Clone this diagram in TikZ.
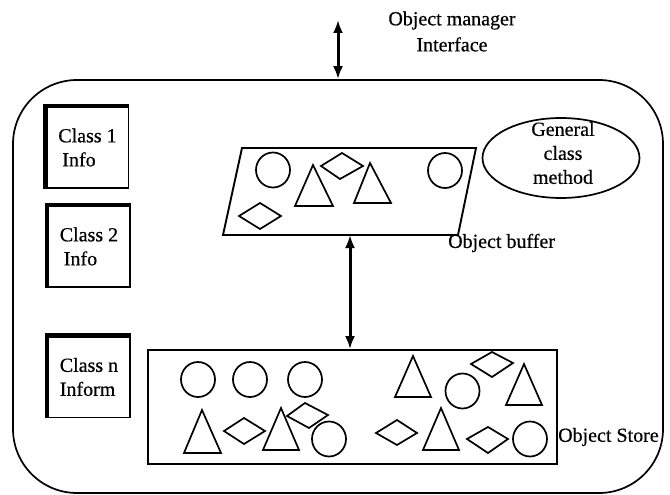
\documentclass[tikz,border=0pt]{standalone}
\usepackage{fontspec}
\setmainfont{Liberation Serif}[FakeBold=0.5]
\usetikzlibrary{arrows.meta,positioning,shapes.geometric}

\begin{document}
\begin{tikzpicture}[x=1pt, y=-1pt,
  lbl/.style={font=\fontsize{20}{24}\selectfont, inner sep=0pt},
  classbox/.style={rectangle, draw=black, line width=1.6pt, minimum width=82pt, minimum height=81pt, align=left, lbl},
  obj/.style={draw=black, line width=1.7pt},
  link/.style={line width=3pt, {Latex[length=13pt,width=10pt]}-{Latex[length=13pt,width=10pt]}}]

\useasboundingbox (0,0) rectangle (670,495);

% cadre du gestionnaire
\node[rectangle, rounded corners=64pt, draw=black, line width=1.7pt, minimum width=650pt, minimum height=413pt] (frame) at (338,286.5) {};

\node[lbl, align=center, font=\fontsize{20}{26}\selectfont] (mgr) at (452,31.5) {Object manager\\Interface};
\coordinate (mgrtop) at (338,20);
\draw[link] (mgrtop) -- (frame.north);

% infos de classes
\node[classbox] (cls1) at (87.5,147.5) {Class 1\\\hspace*{4pt}Info};
\node[classbox] (cls2) at (89,246.5) {Class 2\\\hspace*{4pt}Info};
\node[classbox] (clsn) at (89,377) {Class n\\Inform};
\draw[line width=4.5pt] (cls1.south west) -- (cls1.north west) -- (cls1.north east);
\draw[line width=4.5pt] (cls2.south west) -- (cls2.north west) -- (cls2.north east);
\draw[line width=4.5pt] (clsn.south west) -- (clsn.north west) -- (clsn.north east);

% methode generale
\node[ellipse, draw=black, line width=1.7pt, minimum width=157pt, minimum height=80pt] (gcm) at (561,158) {};
\node[lbl, align=center] (gcmtxt) at (563,153) {General\\class\\method};

% buffer
\coordinate (b1) at (242,148); \coordinate (b2) at (476,148);
\coordinate (b3) at (458,235); \coordinate (b4) at (223,235);
\draw[obj, line width=1.9pt] (b1) -- (b2) -- (b3) -- (b4) -- cycle;
\node[lbl, anchor=west] (buflbl) at (448,243) {Object buffer};

\draw[obj] (273,170) ellipse (17pt and 17.5pt);
\draw[obj] (445,170.5) ellipse (17pt and 17.5pt);
\draw[obj] (313,165) -- (333,206) -- (295,206) -- cycle;
\draw[obj] (370,163) -- (391,203) -- (354,203) -- cycle;
\draw[obj] (342,153) -- (363,166) -- (340,179) -- (321,166) -- cycle;
\draw[obj] (260,203) -- (281,216) -- (260,229) -- (239,216) -- cycle;

% store
\node[rectangle, draw=black, line width=1.8pt, minimum width=409pt, minimum height=114pt] (store) at (352.5,407) {};
\node[lbl, anchor=west] (storelbl) at (558,437) {Object Store};

\coordinate (bufbot) at (350,235);
\draw[link] (bufbot) -- (bufbot |- store.north);

\draw[obj] (198,379.5) ellipse (17pt and 17.5pt);
\draw[obj] (250,379.5) ellipse (17pt and 17.5pt);
\draw[obj] (305,379.5) ellipse (17pt and 17.5pt);
\draw[obj] (329,439) ellipse (17pt and 17.5pt);
\draw[obj] (462.5,391) ellipse (17pt and 17.5pt);
\draw[obj] (530,439) ellipse (17pt and 17.5pt);

\draw[obj] (202,410) -- (221,453) -- (184,453) -- cycle;
\draw[obj] (281,408) -- (299,450) -- (263,450) -- cycle;
\draw[obj] (413,356) -- (431,397) -- (395,397) -- cycle;
\draw[obj] (524,364) -- (542,405) -- (506,405) -- cycle;
\draw[obj] (441,408) -- (459,450) -- (423,450) -- cycle;

\draw[obj] (244,418) -- (265,431) -- (244,444) -- (224,431) -- cycle;
\draw[obj] (305,403) -- (328,415) -- (309,428) -- (287,416) -- cycle;
\draw[obj] (492,352) -- (513,363) -- (492,377) -- (471,364) -- cycle;
\draw[obj] (397,420) -- (417,433) -- (397,445) -- (376,433) -- cycle;
\draw[obj] (488,427) -- (508,439) -- (488,453) -- (467,439) -- cycle;

\end{tikzpicture}
\end{document}
